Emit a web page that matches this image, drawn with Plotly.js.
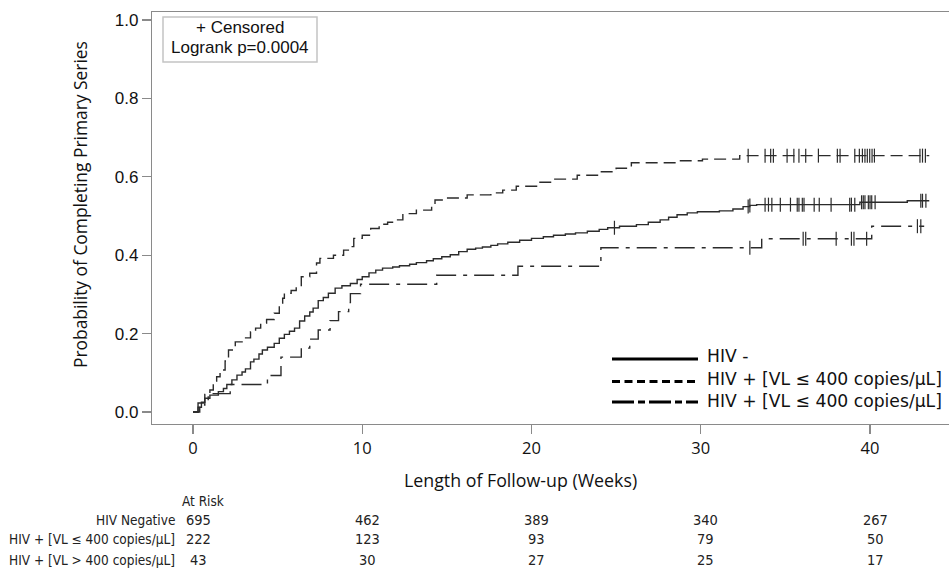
<!DOCTYPE html>
<html>
<head>
<meta charset="utf-8">
<script src="https://cdn.plot.ly/plotly-3.0.1.min.js"></script>
<style>
  html, body { margin: 0; padding: 0; background: #fff; overflow: hidden; }
  #chart { width: 955px; height: 571px; }
</style>
</head>
<body>
<div id="chart"></div>
<script>
// ---------- Data ----------
// HIV negative (solid)
const timesNeg = [0,0.3,0.5,0.7,1.0,1.5,1.8,2.0,2.3,2.6,2.9,3.1,3.4,3.6,3.9,4.1,4.4,4.8,5.1,5.4,5.7,6.0,6.3,6.6,6.9,7.1,7.4,7.7,8.0,8.4,8.8,9.3,9.7,10.0,10.4,10.8,11.2,11.8,12.2,12.8,13.2,13.8,14.2,14.7,15.2,15.7,16.2,16.7,17.1,17.6,18.0,18.6,19.3,20.0,20.7,21.3,22.0,22.6,23.3,24.0,24.5,25.2,26.2,26.9,27.6,28.1,28.6,29.2,29.8,31.1,31.9,32.5,32.9,33.3,39.4,42.2,43.5];
const probNeg  = [0,0.012,0.025,0.035,0.043,0.052,0.060,0.070,0.082,0.094,0.102,0.110,0.128,0.135,0.148,0.158,0.165,0.175,0.188,0.198,0.206,0.214,0.232,0.245,0.255,0.265,0.284,0.292,0.303,0.316,0.322,0.328,0.338,0.345,0.355,0.362,0.367,0.370,0.373,0.377,0.381,0.386,0.391,0.396,0.401,0.409,0.415,0.418,0.421,0.425,0.429,0.433,0.438,0.443,0.447,0.451,0.454,0.457,0.461,0.466,0.470,0.474,0.478,0.484,0.490,0.497,0.503,0.508,0.511,0.513,0.518,0.524,0.527,0.529,0.535,0.539,0.539];
const censNeg  = [24.9,32.8,32.9,33.8,34.0,34.2,34.7,35.3,35.7,35.8,36.0,36.1,36.7,37.0,37.7,38.8,38.9,39.1,39.5,39.6,39.7,39.9,40.0,40.1,40.3,43.0,43.1,43.3];

// HIV + [VL <= 400 copies/uL] (dashed)
const timesLow = [0,0.4,0.7,1.0,1.2,1.4,1.6,1.9,2.1,2.5,3.0,3.4,3.7,4.0,4.35,4.8,5.1,5.3,5.4,5.8,6.1,6.4,6.9,7.3,7.5,8.3,8.9,9.3,9.5,10.0,10.5,11.0,11.5,12.0,12.4,13.2,14.1,14.3,14.8,16.2,17.6,18.3,19.1,20.3,21.3,22.7,23.9,25.0,25.9,28.8,30.1,32.3,43.5];
const probLow  = [0,0.018,0.045,0.056,0.074,0.090,0.107,0.130,0.158,0.179,0.189,0.205,0.214,0.227,0.236,0.252,0.273,0.290,0.303,0.310,0.320,0.345,0.354,0.380,0.392,0.400,0.413,0.422,0.443,0.451,0.468,0.479,0.484,0.490,0.506,0.515,0.528,0.541,0.546,0.554,0.559,0.566,0.576,0.586,0.594,0.604,0.613,0.622,0.636,0.641,0.645,0.654,0.654];
const censLow  = [32.8,33.8,34.13,34.29,35.1,35.5,35.8,36.2,36.95,38.07,38.23,39.1,39.37,39.55,39.7,39.84,39.98,40.12,40.26,42.95,43.1,43.27];

// HIV + [VL > 400 copies/uL] (dash-dot)
const timesHigh = [0,0.3,0.9,2.2,4.4,5.2,6.4,6.9,7.4,8.1,8.6,9.2,9.3,9.9,14.4,19.2,24.1,33.6,40.1,43.2];
const probHigh  = [0,0.023,0.047,0.070,0.093,0.140,0.163,0.186,0.209,0.233,0.256,0.279,0.302,0.326,0.349,0.372,0.419,0.442,0.474,0.474];
const censHigh  = [32.9,36.05,36.2,38.0,38.9,39.05,39.8,42.8,43.0];

// At-risk table
const riskTimes  = [0,10,20,30,40];
const riskLabels = ["HIV Negative","HIV + [VL \u2264 400 copies/\u03bcL]","HIV + [VL > 400 copies/\u03bcL]"];
const riskNeg    = [695,462,389,340,267];
const riskLow    = [222,123,93,79,50];
const riskHigh   = [43,30,27,25,17];

const legendLabels = ["HIV -","HIV + [VL \u2264 400 copies/\u03bcL]","HIV + [VL \u2264 400 copies/\u03bcL]"];
const boxLines = ["+ Censored", "Logrank p=0.0004"];
const xTitle = "Length of Follow-up (Weeks)";
const yTitle = "Probability of Completing Primary Series";
const xTicks = [0,10,20,30,40];
const yTicks = [0,0.2,0.4,0.6,0.8,1.0];

// ---------- Helpers ----------
function stepAt(ts, ps, t) {
  let v = ps[0];
  for (let i = 0; i < ts.length; i++) { if (ts[i] <= t) v = ps[i]; else break; }
  return v;
}
const LINE = '#2b2b2b';
const FRAME = '#8a8a8a';
const dashes = ['solid', '12px,6px', '20px,7px,4px,7px'];

const series = [
  {t: timesNeg, p: probNeg, c: censNeg, name: legendLabels[0], dash: dashes[0]},
  {t: timesLow, p: probLow, c: censLow, name: legendLabels[1], dash: dashes[1]},
  {t: timesHigh, p: probHigh, c: censHigh, name: legendLabels[2], dash: dashes[2]}
];

const traces = [];
series.forEach(s => {
  traces.push({
    x: s.t, y: s.p, type: 'scatter', mode: 'lines', name: s.name,
    line: {shape: 'hv', color: LINE, width: 1.4, dash: s.dash},
    showlegend: false, hoverinfo: 'skip'
  });
  traces.push({
    x: s.c, y: s.c.map(t => stepAt(s.t, s.p, t)), type: 'scatter', mode: 'markers',
    marker: {symbol: 'line-ns-open', size: 10, color: LINE, line: {color: LINE, width: 1.2}},
    showlegend: false, hoverinfo: 'skip'
  });
});

// ---------- Layout ----------
const plotL = 152, plotT = 12, plotB = 424, W = 955, H = 571;
const plotW = W - plotL, plotH = plotB - plotT;
const px2x = px => (px - plotL) / plotW;
const py2y = py => (plotB - py) / plotH;

const annotations = [];
const shapes = [];
const titleFont = {family: 'Open Sans, Noto Sans, sans-serif', size: 17.8, color: '#111'};

// Axis titles (placed as annotations for exact position)
annotations.push({xref: 'paper', yref: 'paper', x: px2x(520), y: py2y(480), xanchor: 'center', yanchor: 'middle',
  text: xTitle, showarrow: false, font: titleFont});
annotations.push({xref: 'paper', yref: 'paper', x: px2x(80), y: py2y(205), xanchor: 'center', yanchor: 'middle',
  text: yTitle, textangle: -90, showarrow: false, font: {family: titleFont.family, size: 17.4, color: '#111'}});

// Censored / logrank box
shapes.push({type: 'rect', xref: 'paper', yref: 'paper', x0: px2x(163), x1: px2x(317), y0: py2y(62), y1: py2y(17),
  line: {color: '#c4c4c4', width: 1.5}, fillcolor: '#fff'});
const boxY = [28, 47.5];
boxLines.forEach((t, i) => {
  annotations.push({xref: 'paper', yref: 'paper', x: px2x(240), y: py2y(boxY[i]), xanchor: 'center', yanchor: 'middle',
    text: t, showarrow: false, font: {family: 'Liberation Sans, Arial, sans-serif', size: 17, color: '#111'}});
});

// Legend (bottom right)
const legLineY = [359, 381.5, 402];
const legTextY = [356, 379, 401];
const legDash = ['solid', '8px,4.5px', '22px,4px,7px,4px'];
legendLabels.forEach((lab, i) => {
  shapes.push({type: 'line', xref: 'paper', yref: 'paper', x0: px2x(612), x1: px2x(698),
    y0: py2y(legLineY[i]), y1: py2y(legLineY[i]), line: {color: '#000', width: 3.2, dash: legDash[i]}});
  annotations.push({xref: 'paper', yref: 'paper', x: px2x(705), y: py2y(legTextY[i]),
    xanchor: 'left', yanchor: 'middle', text: lab, showarrow: false,
    font: {family: 'DejaVu Sans, sans-serif', size: 17.2, color: '#111'}});
});

// At-risk table
const tabFont = {family: 'Liberation Sans Narrow, DejaVu Sans Condensed, Arial Narrow, sans-serif', size: 13.5, color: '#222'};
const numFont = {family: 'Liberation Sans Narrow, DejaVu Sans Condensed, Arial Narrow, sans-serif', size: 14.5, color: '#222'};
annotations.push({xref: 'paper', yref: 'paper', x: px2x(180), y: py2y(501), xanchor: 'left', yanchor: 'middle',
  text: 'At Risk', showarrow: false, font: tabFont});
const rowY = [520, 539, 560];
const rowVals = [riskNeg, riskLow, riskHigh];
riskLabels.forEach((lab, r) => {
  annotations.push({xref: 'paper', yref: 'paper', x: px2x(177), y: py2y(rowY[r]), xanchor: 'right', yanchor: 'middle',
    text: lab, showarrow: false, font: tabFont});
  riskTimes.forEach((t, j) => {
    annotations.push({xref: 'x', yref: 'paper', x: t + 0.3, y: py2y(rowY[r]), xanchor: 'center', yanchor: 'middle',
      text: String(rowVals[r][j]), showarrow: false, font: numFont});
  });
});

const layout = {
  width: W, height: H,
  margin: {l: plotL, r: 0, t: plotT, b: H - plotB, pad: 0},
  paper_bgcolor: '#fff', plot_bgcolor: '#fff',
  showlegend: false,
  xaxis: {
    range: [-2.42, 45.02], tickvals: xTicks, ticktext: xTicks.map(String),
    showgrid: false, zeroline: false, showline: true, linecolor: FRAME, linewidth: 1.2, mirror: true,
    ticks: 'outside', ticklen: 9, tickcolor: FRAME, tickwidth: 1.2,
    tickfont: {family: 'Open Sans, Noto Sans, sans-serif', size: 16.5, color: '#111'},
    automargin: false
  },
  yaxis: {
    range: [-0.0306, 1.0204], tickvals: yTicks, tickformat: '.1f',
    showgrid: false, zeroline: false, showline: true, linecolor: FRAME, linewidth: 1.2, mirror: true,
    ticks: 'outside', ticklen: 9, tickcolor: FRAME, tickwidth: 1.2,
    tickfont: {family: 'Liberation Sans, Arial, sans-serif', size: 17, color: '#111'},
    automargin: false
  },
  shapes: shapes,
  annotations: annotations
};

Plotly.newPlot('chart', traces, layout, {staticPlot: true, displayModeBar: false});
</script>
</body>
</html>
